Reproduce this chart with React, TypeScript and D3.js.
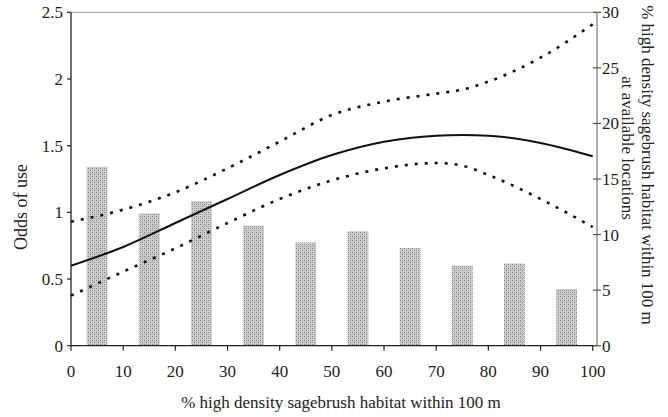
import React from "react";
import * as d3 from "d3";

const xTicks = [0, 10, 20, 30, 40, 50, 60, 70, 80, 90, 100];
const leftTicks = [0, 0.5, 1, 1.5, 2, 2.5];
const rightTicks = [0, 5, 10, 15, 20, 25, 30];

const barCategories = ["0-10", "10-20", "20-30", "30-40", "40-50", "50-60", "60-70", "70-80", "80-90", "90-100"];
const barValues = [16.1, 11.9, 13.0, 10.8, 9.3, 10.3, 8.8, 7.2, 7.4, 5.1];

const curveX = [0, 10, 20, 30, 40, 50, 60, 70, 75, 80, 90, 100];
const oddsFit = [0.6, 0.74, 0.92, 1.1, 1.28, 1.43, 1.53, 1.575, 1.58, 1.575, 1.52, 1.42];
const upperCI = [0.93, 1.02, 1.15, 1.33, 1.53, 1.73, 1.83, 1.89, 1.92, 1.98, 2.16, 2.41];
const lowerCI = [0.375, 0.555, 0.73, 0.92, 1.1, 1.24, 1.33, 1.37, 1.35, 1.28, 1.1, 0.89];

const W = 668;
const H = 417;
const left = 71;
const right = 592.7;
const rightAxisX = 597;
const top = 12.3;
const bottom = 345.7;
const FONT = "Liberation Serif, Times New Roman, DejaVu Serif, serif";
const ts: React.CSSProperties = { fontFamily: FONT };

export default function App() {
  const x = d3.scaleLinear().domain([0, 100]).range([left, right]);
  const yL = d3.scaleLinear().domain([0, 2.5]).range([bottom, top]);
  const yR = d3.scaleLinear().domain([0, 30]).range([bottom, top]);
  const band = d3
    .scaleBand<string>()
    .domain(barCategories)
    .range([left, right])
    .paddingInner(0.6)
    .paddingOuter(0.3);

  const line = d3
    .line<[number, number]>()
    .x((d) => x(d[0]))
    .y((d) => yL(d[1]))
    .curve(d3.curveMonotoneX);

  const mk = (vals: number[]) => line(curveX.map((c, i) => [c, vals[i]] as [number, number])) || "";

  return (
    <svg
      width={W}
      height={H}
      style={{ position: "absolute", left: 0, top: 0, background: "#fff" }}
    >
      <defs>
        <pattern id="stip" width="4" height="4" patternUnits="userSpaceOnUse">
          <rect width="4" height="4" fill="#cdcdcd" />
          <rect x="0" y="0" width="1" height="1" fill="#7e7e7e" />
          <rect x="2" y="2" width="1" height="1" fill="#7e7e7e" />
          <rect x="2" y="0" width="1" height="1" fill="#a8a8a8" />
          <rect x="0" y="2" width="1" height="1" fill="#a8a8a8" />
        </pattern>
      </defs>
      <rect width={W} height={H} fill="#fff" />

      {/* bars */}
      {barCategories.map((c, i) => (
        <rect
          key={c}
          x={band(c)}
          y={yR(barValues[i])}
          width={band.bandwidth()}
          height={bottom - yR(barValues[i])}
          fill="url(#stip)"
        />
      ))}

      {/* frame */}
      <line x1={left} x2={rightAxisX} y1={top} y2={top} stroke="#999" strokeWidth={1} />
      <line x1={left} x2={left} y1={top} y2={bottom} stroke="#222" strokeWidth={1.3} />
      <line x1={left} x2={rightAxisX} y1={bottom} y2={bottom} stroke="#222" strokeWidth={1.3} />
      <line x1={rightAxisX} x2={rightAxisX} y1={top} y2={bottom} stroke="#777" strokeWidth={1.2} />

      {/* left axis */}
      {leftTicks.map((t) => (
        <g key={"l" + t}>
          <line x1={left - 4} x2={left} y1={yL(t)} y2={yL(t)} stroke="#222" strokeWidth={1.2} />
          <text style={ts} x={left - 8} y={yL(t)} dy="0.35em" textAnchor="end" fontSize={17} fill="#222">
            {t}
          </text>
        </g>
      ))}

      {/* right axis */}
      {rightTicks.map((t) => (
        <g key={"r" + t}>
          <line x1={rightAxisX - 4} x2={rightAxisX + 4} y1={yR(t)} y2={yR(t)} stroke="#555" strokeWidth={1.2} />
          <text style={ts} x={rightAxisX + 5} y={yR(t)} dy="0.35em" textAnchor="start" fontSize={17} fill="#222">
            {t}
          </text>
        </g>
      ))}

      {/* bottom axis */}
      {xTicks.map((t) => (
        <g key={"b" + t}>
          <line x1={x(t)} x2={x(t)} y1={bottom} y2={bottom + 5} stroke="#222" strokeWidth={1.2} />
          <text style={ts} x={x(t)} y={377} textAnchor="middle" fontSize={17} fill="#222">
            {t}
          </text>
        </g>
      ))}

      {/* curves */}
      <path d={mk(upperCI)} fill="none" stroke="#111" strokeWidth={2.6} strokeDasharray="3,7" />
      <path d={mk(lowerCI)} fill="none" stroke="#111" strokeWidth={2.6} strokeDasharray="3,7" />
      <path d={mk(oddsFit)} fill="none" stroke="#111" strokeWidth={2} />

      {/* titles */}
      <text style={ts} x={341} y={408} textAnchor="middle" fontSize={17} fill="#222">
        % high density sagebrush habitat within 100 m
      </text>
      <text style={ts} transform="translate(27,207) rotate(-90)" textAnchor="middle" fontSize={18} fill="#222">
        Odds of use
      </text>
      <text style={ts} transform="translate(642,165) rotate(90)" textAnchor="middle" fontSize={17} fill="#222">
        % high density sagebrush habitat within 100 m
      </text>
      <text style={ts} transform="translate(622,148) rotate(90)" textAnchor="middle" fontSize={17} fill="#222">
        at available locations
      </text>
    </svg>
  );
}
